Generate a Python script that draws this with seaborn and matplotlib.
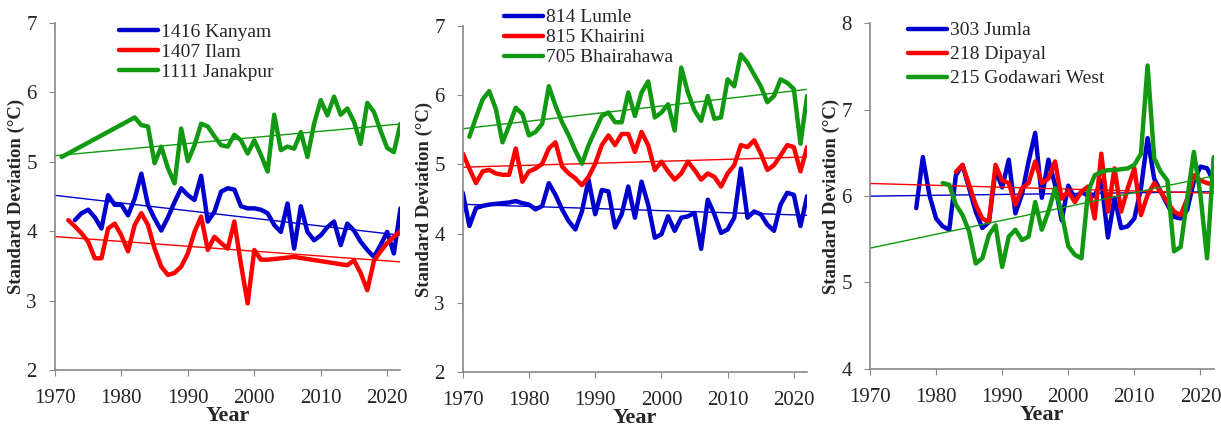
import numpy as np
import pandas as pd
import seaborn as sns
import matplotlib.pyplot as plt
from matplotlib.lines import Line2D

# ---- data (annual std. dev. of temperature, degC) ----
kanyam_years = list(range(1973, 2023))
kanyam = [4.16, 4.26, 4.31, 4.20, 4.04, 4.52, 4.38, 4.38, 4.23, 4.47,
          4.83, 4.38, 4.18, 4.01, 4.20, 4.42, 4.62, 4.52, 4.45, 4.80,
          4.14, 4.28, 4.57, 4.62, 4.60, 4.36, 4.33, 4.33, 4.31, 4.26,
          4.09, 3.99, 4.40, 3.75, 4.36, 3.99, 3.87, 3.94, 4.06, 4.14,
          3.80, 4.11, 4.01, 3.85, 3.73, 3.63, 3.80, 3.99, 3.68, 4.33]

ilam_years = list(range(1972, 2003)) + [2006, 2010, 2014] + list(range(2015, 2023))
ilam = [4.16, 4.07, 3.97, 3.85, 3.61, 3.61, 4.04, 4.11, 3.94, 3.71,
        4.09, 4.26, 4.09, 3.75, 3.49, 3.37, 3.40, 3.49, 3.68, 3.99,
        4.21, 3.73, 3.92, 3.83, 3.75, 4.14, 3.52, 2.96, 3.73, 3.59,
        3.59, 3.63, 3.57, 3.51, 3.58, 3.40, 3.15, 3.57, 3.71, 3.83,
        3.92, 4.00]

janakpur_years = [1971] + list(range(1982, 2023))
janakpur = [5.07, 5.64, 5.53, 5.51, 4.98, 5.22, 4.91, 4.69, 5.48, 5.01,
            5.24, 5.55, 5.51, 5.37, 5.24, 5.22, 5.39, 5.31, 5.12, 5.31,
            5.10, 4.86, 5.68, 5.17, 5.22, 5.19, 5.43, 5.07, 5.55, 5.89,
            5.67, 5.94, 5.68, 5.77, 5.58, 5.26, 5.85, 5.72, 5.45, 5.20,
            5.14, 5.55]

lumle_years = list(range(1970, 2023))
lumle = [4.59, 4.11, 4.37, 4.40, 4.42, 4.43, 4.44, 4.45, 4.47, 4.44,
         4.42, 4.35, 4.40, 4.73, 4.56, 4.35, 4.18, 4.06, 4.32, 4.78,
         4.28, 4.63, 4.61, 4.09, 4.28, 4.68, 4.23, 4.75, 4.42, 3.94,
         3.99, 4.25, 4.04, 4.23, 4.25, 4.30, 3.78, 4.49, 4.28, 4.01,
         4.06, 4.23, 4.94, 4.23, 4.32, 4.28, 4.13, 4.04, 4.42, 4.59,
         4.56, 4.11, 4.54]

khairini_years = list(range(1970, 2023))
khairini = [5.16, 4.94, 4.73, 4.90, 4.92, 4.87, 4.85, 4.85, 5.23, 4.75,
            4.90, 4.94, 5.01, 5.23, 5.32, 4.97, 4.87, 4.80, 4.70, 4.82,
            5.01, 5.28, 5.42, 5.28, 5.44, 5.44, 5.18, 5.47, 5.28, 4.92,
            5.04, 4.90, 4.78, 4.87, 5.04, 4.92, 4.78, 4.87, 4.82, 4.68,
            4.87, 4.99, 5.28, 5.25, 5.35, 5.16, 4.92, 4.99, 5.13, 5.28,
            5.25, 4.90, 5.25]

bhairahawa_years = list(range(1971, 2023))
bhairahawa = [5.40, 5.68, 5.94, 6.06, 5.80, 5.32, 5.56, 5.82, 5.73,
              5.42, 5.47, 5.59, 6.13, 5.85, 5.61, 5.42, 5.20, 5.01, 5.28,
              5.49, 5.70, 5.75, 5.61, 5.61, 6.04, 5.70, 6.04, 6.20, 5.68,
              5.75, 5.87, 5.49, 6.40, 6.04, 5.78, 5.63, 5.99, 5.66, 5.68,
              6.23, 6.13, 6.59, 6.47, 6.30, 6.13, 5.90, 5.99, 6.23, 6.18,
              6.09, 5.30, 5.99]

jumla_years = list(range(1977, 2023))
jumla = [5.86, 6.45, 6.01, 5.74, 5.65, 5.61, 6.24, 6.36, 6.09, 5.82,
         5.63, 5.70, 6.30, 6.10, 6.42, 5.80, 6.02, 6.40, 6.73, 5.98,
         6.42, 6.13, 5.72, 6.12, 5.97, 6.05, 6.00, 6.00, 6.18, 5.52,
         5.98, 5.63, 5.65, 5.74, 6.09, 6.67, 6.20, 6.05, 5.90, 5.76,
         5.74, 5.84, 6.17, 6.34, 6.32, 6.17]

dipayal_years = list(range(1983, 2023))
dipayal = [6.28, 6.36, 6.13, 5.90, 5.74, 5.70, 6.36, 6.18, 6.15, 5.90,
           6.09, 6.15, 6.40, 6.15, 6.20, 6.40, 5.97, 6.05, 5.93, 6.05,
           6.11, 5.74, 6.49, 5.82, 6.32, 5.82, 6.09, 6.32, 5.78, 6.01,
           6.15, 6.05, 5.93, 5.82, 5.78, 5.97, 6.24, 6.18, 6.15, 6.13]

godawari_years = list(range(1981, 2023))
godawari = [6.15, 6.13, 5.90, 5.78, 5.59, 5.22, 5.28, 5.55, 5.66, 5.18,
            5.53, 5.61, 5.49, 5.53, 5.93, 5.61, 5.82, 6.09, 5.80, 5.42,
            5.32, 5.28, 6.05, 6.24, 6.28, 6.30, 6.30, 6.31, 6.32, 6.36,
            6.49, 7.51, 6.44, 6.28, 6.18, 5.36, 5.41, 5.97, 6.51, 6.01,
            5.28, 6.45]

colors = ['#0000cc', '#ff0000', '#119911']

panels = [
    dict(rect=[0.045, 0.1355, 0.283, 0.8105], ylim=(2, 7), yticks=range(2, 8),
         leg=(0.185, 1.0), lspace=0.12,
         series=[('1416 Kanyam', kanyam_years, kanyam),
                 ('1407 Ilam', ilam_years, ilam),
                 ('1111 Janakpur', janakpur_years, janakpur)]),
    dict(rect=[0.379, 0.131, 0.282, 0.808], ylim=(2, 7), yticks=range(2, 8),
         leg=(0.12, 1.05), lspace=0.12,
         series=[('814 Lumle', lumle_years, lumle),
                 ('815 Khairini', khairini_years, khairini),
                 ('705 Bhairahawa', bhairahawa_years, bhairahawa)]),
    dict(rect=[0.7125, 0.138, 0.2815, 0.808], ylim=(4, 8), yticks=range(4, 9),
         leg=(0.11, 1.004), lspace=0.33,
         series=[('303 Jumla', jumla_years, jumla),
                 ('218 Dipayal', dipayal_years, dipayal),
                 ('215 Godawari West', godawari_years, godawari)]),
]

sns.set_style('ticks')
plt.rcParams['font.family'] = ['Liberation Serif', 'DejaVu Serif']

fig = plt.figure(figsize=(12.21, 4.28), dpi=100)

for p in panels:
    ax = fig.add_axes(p['rect'])
    ax.set_xlim(1970, 2022)
    ax.set_ylim(*p['ylim'])
    handles = []
    for (name, yrs, vals), c in zip(p['series'], colors):
        df = pd.DataFrame({'Year': yrs, 'SD': vals})
        sns.lineplot(data=df, x='Year', y='SD', ax=ax, color=c, lw=3.2,
                     solid_joinstyle='round', solid_capstyle='round')
        sns.regplot(data=df, x='Year', y='SD', ax=ax, scatter=False, ci=None,
                    truncate=False, color=c, line_kws=dict(lw=1.0))
        handles.append(Line2D([0], [0], color=c, lw=3.2, label=name))
    ax.set_xlim(1970, 2022)
    ax.set_ylim(*p['ylim'])
    ax.set_xticks(range(1970, 2021, 10))
    ax.set_yticks(list(p['yticks']))
    ax.tick_params(labelsize=15, length=4, color='#888888')
    ax.tick_params(axis='x', pad=10)
    ax.tick_params(axis='y', pad=9)
    sns.despine(ax=ax)
    for s in ['left', 'bottom']:
        ax.spines[s].set_color('#888888')
        ax.spines[s].set_linewidth(1.2)
    ax.set_xlabel('Year', fontsize=16, fontweight='bold', labelpad=-2)
    ax.set_ylabel('Standard Deviation (°C)', fontsize=13.5, fontweight='bold', labelpad=1)
    ax.legend(handles=handles, loc='upper left', bbox_to_anchor=p['leg'],
              frameon=False, fontsize=14, handlelength=2.0, handletextpad=0.15,
              labelspacing=p['lspace'], borderpad=0, borderaxespad=0)

fig.savefig('out.png', dpi=100)
